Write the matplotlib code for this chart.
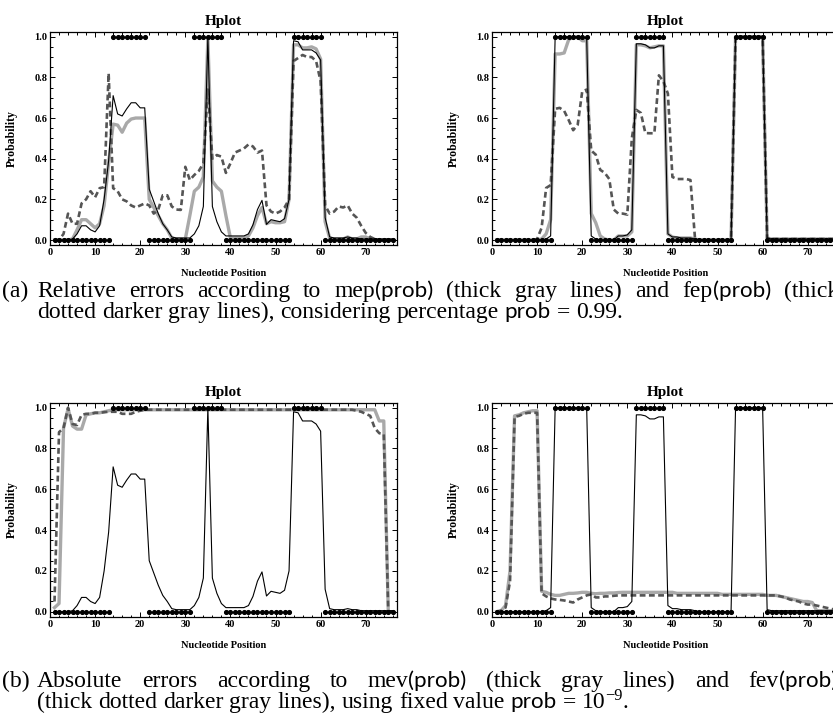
import numpy as np
import matplotlib
matplotlib.use("Agg")
import matplotlib.pyplot as plt
from matplotlib.ticker import MultipleLocator, FormatStrFormatter
from matplotlib.transforms import IdentityTransform
from matplotlib.font_manager import FontProperties

# ---------------- data ----------------
positions = list(range(1, 77))
structure = [0]*13 + [1]*8 + [0]*10 + [1]*7 + [0]*15 + [1]*7 + [0]*16

prob_a = [0.0, 0.0, 0.0, 0.0, 0.005, 0.03, 0.07, 0.07, 0.05, 0.04,
          0.07, 0.2, 0.39, 0.71, 0.62, 0.61, 0.645, 0.675, 0.675, 0.65,
          0.65, 0.25, 0.19, 0.13, 0.08, 0.05, 0.015, 0.01, 0.01, 0.01,
          0.01, 0.03, 0.07, 0.165, 1.0, 0.165, 0.09, 0.04, 0.02, 0.02,
          0.02, 0.02, 0.02, 0.03, 0.075, 0.15, 0.195, 0.077, 0.1, 0.095,
          0.09, 0.105, 0.2, 0.98, 0.975, 0.935, 0.935, 0.935, 0.92, 0.885,
          0.11, 0.015, 0.01, 0.01, 0.01, 0.015, 0.01, 0.01, 0.005, 0.005,
          0.005, 0.005, 0.005, 0.005, 0.005, 0.005]
mep_a = [0.0, 0.0, 0.0, 0.0, 0.005, 0.05, 0.1, 0.1, 0.08, 0.06,
         0.08, 0.17, 0.38, 0.57, 0.565, 0.53, 0.575, 0.595, 0.6, 0.6,
         0.6, 0.2, 0.16, 0.12, 0.08, 0.05, 0.01, 0.005, 0.005, 0.005,
         0.12, 0.24, 0.26, 0.31, 0.99, 0.29, 0.26, 0.24, 0.12, 0.01,
         0.01, 0.01, 0.01, 0.02, 0.06, 0.12, 0.16, 0.08, 0.09, 0.085,
         0.085, 0.09, 0.2, 0.96, 0.96, 0.945, 0.945, 0.95, 0.94, 0.89,
         0.09, 0.01, 0.005, 0.005, 0.005, 0.015, 0.005, 0.005, 0.015, 0.015,
         0.005, 0.0, 0.0, 0.0, 0.0, 0.0]
fep_a = [0.0, 0.0, 0.03, 0.13, 0.08, 0.08, 0.18, 0.2, 0.24, 0.21,
         0.255, 0.26, 0.82, 0.255, 0.24, 0.2, 0.19, 0.17, 0.16, 0.17,
         0.18, 0.17, 0.13, 0.15, 0.22, 0.22, 0.165, 0.15, 0.148, 0.36,
         0.295, 0.32, 0.34, 0.377, 0.74, 0.4, 0.418, 0.41, 0.33, 0.377,
         0.43, 0.44, 0.45, 0.47, 0.46, 0.43, 0.44, 0.17, 0.14, 0.13,
         0.14, 0.16, 0.2, 0.88, 0.895, 0.91, 0.9, 0.9, 0.88, 0.78,
         0.17, 0.13, 0.14, 0.165, 0.16, 0.17, 0.13, 0.11, 0.07, 0.035,
         0.015, 0.005, 0.0, 0.0, 0.0, 0.0]

prob_b = [0.0]*11 + [0.005, 0.02] + [1.0]*7 + [0.99, 0.02, 0.005, 0.0, 0.0, 0.0, 0.0,
          0.02, 0.02, 0.025, 0.05, 0.965, 0.965, 0.96, 0.945, 0.945, 0.955, 0.955,
          0.03, 0.015, 0.015, 0.01, 0.01, 0.01, 0.005] + [0.0]*8 + [1.0]*7 + [0.01] + [0.005]*15
mep_b = [0.0]*10 + [0.005, 0.03, 0.1, 0.915, 0.915, 0.92, 0.985, 1.0, 1.0, 0.98,
         0.98, 0.13, 0.085, 0.02, 0.005, 0.0, 0.0, 0.02, 0.02, 0.02,
         0.04, 0.96, 0.96, 0.955, 0.945, 0.95, 0.955, 0.955, 0.03, 0.015,
         0.01, 0.01, 0.01, 0.01, 0.005] + [0.0]*8 + [1.0]*7 + [0.01] + [0.005]*15
fep_b = [0.0]*9 + [0.005, 0.06, 0.256, 0.27, 0.645, 0.65, 0.635, 0.59, 0.54, 0.567, 0.73,
         0.74, 0.44, 0.42, 0.345, 0.33, 0.3, 0.15, 0.13, 0.13, 0.125,
         0.5, 0.64, 0.625, 0.526, 0.525, 0.525, 0.81, 0.78, 0.72, 0.31,
         0.3, 0.3, 0.3, 0.295, 0.01] + [0.0]*8 + [1.0]*7 + [0.01] + [0.005]*15

mev_a = [0.02, 0.04, 0.9, 0.995, 0.91, 0.895, 0.895, 0.965, 0.97, 0.975,
         0.975, 0.98, 0.985] + [0.99]*59 + [0.935, 0.935, 0.0, 0.0]
fev_a = [0.05, 0.88, 0.9, 1.0, 0.92, 0.915, 0.965, 0.97, 0.97, 0.975,
         0.975, 0.978, 0.98, 0.98, 0.98, 0.97, 0.97, 0.97, 0.98, 0.985] + [0.99]*47 + \
        [0.985, 0.98, 0.97, 0.96, 0.9, 0.875, 0.87, 0.0, 0.0]
mev_b = [0.0, 0.005, 0.03, 0.2, 0.96, 0.965, 0.975, 0.98, 0.985, 0.985,
         0.1, 0.095, 0.085, 0.08, 0.08, 0.085, 0.09, 0.09, 0.092, 0.095,
         0.095, 0.09, 0.088, 0.09, 0.09, 0.092, 0.092, 0.094, 0.095, 0.095] + [0.095]*10 + \
        [0.09]*10 + [0.085]*10 + [0.08, 0.08, 0.08, 0.075, 0.07, 0.065, 0.06, 0.055, 0.05, 0.05,
         0.045, 0.005, 0.005, 0.005, 0.005, 0.005]
fev_b = [0.0, 0.005, 0.02, 0.15, 0.955, 0.96, 0.97, 0.975, 0.975, 0.975,
         0.09, 0.075, 0.065, 0.06, 0.058, 0.055, 0.05, 0.045, 0.06, 0.07,
         0.08, 0.085, 0.07, 0.07, 0.075, 0.075, 0.078, 0.08, 0.08, 0.08] + [0.08]*33 + \
        [0.075, 0.07, 0.06, 0.055, 0.05, 0.04, 0.035, 0.035, 0.03, 0.025, 0.02, 0.015, 0.01]

panels = [
    (prob_a, mep_a, fep_a),
    (prob_b, mep_b, fep_b),
    (prob_a, mev_a, fev_a),
    (prob_b, mev_b, fev_b),
]

# ---------------- layout ----------------
W, H = 833, 720
fig = plt.figure(figsize=(W / 100, H / 100), dpi=100)

def add_axes_px(left, top, right, bottom):
    return fig.add_axes([left / W, 1 - bottom / H, (right - left) / W, (bottom - top) / H])

boxes = [(50, 31.6, 397.3, 245.1), (492, 31.6, 839.3, 245.1),
         (50, 402.6, 397.3, 616.8), (492, 402.6, 839.3, 616.8)]

bold = dict(family="Liberation Serif", weight="bold")
LIGHT = "#a9a9a9"
DARK = "#555555"

for (prob, m_err, f_err), box in zip(panels, boxes):
    ax = add_axes_px(*box)
    ax.plot(positions, m_err, color=LIGHT, lw=2.4, solid_joinstyle="round", zorder=2)
    ax.plot(positions, f_err, color=DARK, lw=1.9, dashes=(2.2, 1.3), zorder=3)
    ax.plot(positions, prob, color="black", lw=0.8, zorder=4)
    ax.plot(positions, structure, linestyle="none", marker="o", ms=2.7,
            color="black", zorder=5, clip_on=False)
    ax.set_xlim(0, 77)
    ax.set_ylim(-0.025, 1.025)
    ax.xaxis.set_major_locator(MultipleLocator(10))
    ax.xaxis.set_minor_locator(MultipleLocator(2))
    ax.yaxis.set_major_locator(MultipleLocator(0.2))
    ax.yaxis.set_minor_locator(MultipleLocator(0.05))
    ax.yaxis.set_major_formatter(FormatStrFormatter("%.1f"))
    ax.tick_params(which="both", direction="in", top=True, right=True, width=0.7)
    ax.tick_params(which="major", length=3.5, pad=2, labelsize=7.5)
    ax.tick_params(which="minor", length=1.8)
    for lab in ax.get_xticklabels() + ax.get_yticklabels():
        lab.set_fontfamily("Liberation Serif")
        lab.set_fontweight("bold")
    for sp in ax.spines.values():
        sp.set_linewidth(0.9)
    ax.set_title("Hplot", fontsize=11, pad=5, **bold)
    ax.set_ylabel("Probability", fontsize=8.5, **bold)
    ax.yaxis.set_label_coords(-0.092, 0.5)
    ax.set_xlabel("Nucleotide Position", fontsize=7.5, labelpad=9, **bold)

# ---------------- captions ----------------
renderer = fig.canvas.get_renderer()
SERIF = "Liberation Serif"
SANS = "Lato"
CAP = 17

def fp(fam, size):
    return FontProperties(family=fam, size=size)

def seg_w(text, prop):
    t = fig.text(0, 0, text, fontproperties=prop)
    w = t.get_window_extent(renderer).width
    t.remove()
    return w

def word(*segs):
    # each seg: (text, family, scale, raise_px)
    return [(s[0], s[1], s[2] if len(s) > 2 else 1.0, s[3] if len(s) > 3 else 0.0) for s in segs]

def word_w(wd):
    return sum(seg_w(t, fp(f, CAP * sc)) for t, f, sc, dy in wd)

def draw_word(wd, x, yb):
    for t, f, sc, dy in wd:
        prop = fp(f, CAP * sc)
        fig.text(x, H - yb + dy, t, fontproperties=prop, transform=IdentityTransform(),
                 va="baseline", ha="left")
        x += seg_w(t, prop)
    return x

def line(words, x0, yb, x1=None):
    widths = [word_w(w) for w in words]
    if x1 is None:
        gap = seg_w("a b", fp(SERIF, CAP)) - seg_w("ab", fp(SERIF, CAP))
    else:
        gap = (x1 - x0 - sum(widths)) / (len(words) - 1)
    x = x0
    for w, wd in zip(words, widths):
        draw_word(w, x, yb)
        x += wd + gap

S = SERIF
P = SANS
a1 = [word(("Relative", S)), word(("errors", S)), word(("according", S)), word(("to", S)),
      word(("mep", S), ("(prob)", P, 0.95)), word(("(thick", S)), word(("gray", S)),
      word(("lines)", S)), word(("and", S)), word(("fep", S), ("(prob)", P, 0.95)),
      word(("(thick", S))]
a2 = [word(("dotted", S)), word(("darker", S)), word(("gray", S)), word(("lines),", S)),
      word(("considering", S)), word(("percentage", S)), word(("prob", P, 0.95)),
      word(("=", S)), word(("0.99.", S))]
b1 = [word(("Absolute", S)), word(("errors", S)), word(("according", S)), word(("to", S)),
      word(("mev", S), ("(prob)", P, 0.95)), word(("(thick", S)), word(("gray", S)),
      word(("lines)", S)), word(("and", S)), word(("fev", S), ("(prob)", P, 0.95))]
b2 = [word(("(thick", S)), word(("dotted", S)), word(("darker", S)), word(("gray", S)),
      word(("lines),", S)), word(("using", S)), word(("fixed", S)), word(("value", S)),
      word(("prob", P, 0.95)), word(("=", S)),
      word(("10", S), ("\u22129", S, 0.7, 7.5), (".", S))]

draw_word(word(("(a)", S)), 2, 297)
line(a1, 37, 297, 839)
line(a2, 37, 318)
draw_word(word(("(b)", S)), 2, 687)
line(b1, 37, 687, 837)
line(b2, 37, 708)

fig.savefig("out.png", dpi=100)
